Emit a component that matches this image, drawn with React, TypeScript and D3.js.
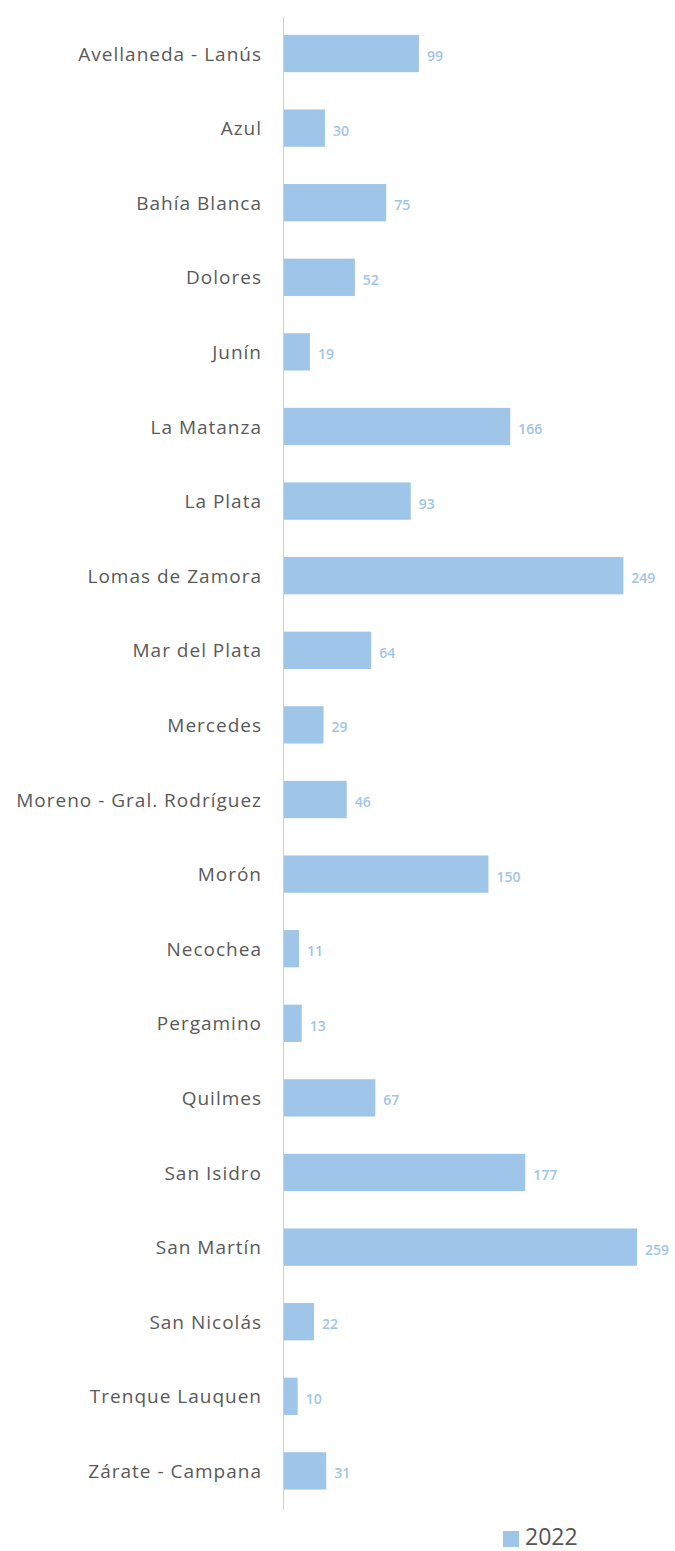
import React from "react";
import * as d3 from "d3";

const categories = [
  "Avellaneda - Lanús",
  "Azul",
  "Bahía Blanca",
  "Dolores",
  "Junín",
  "La Matanza",
  "La Plata",
  "Lomas de Zamora",
  "Mar del Plata",
  "Mercedes",
  "Moreno - Gral. Rodríguez",
  "Morón",
  "Necochea",
  "Pergamino",
  "Quilmes",
  "San Isidro",
  "San Martín",
  "San Nicolás",
  "Trenque Lauquen",
  "Zárate - Campana",
];
const values2022 = [99, 30, 75, 52, 19, 166, 93, 249, 64, 29, 46, 150, 11, 13, 67, 177, 259, 22, 10, 31];
const seriesName = "2022";

const W = 675;
const H = 1551;
const barColor = "#9fc5e8";

export default function App() {
  const x0 = 284;
  const x = d3.scaleLinear().domain([0, 259]).range([x0, 637]);
  const y = d3
    .scaleBand<string>()
    .domain(categories)
    .range([16.2, 1508.2])
    .paddingInner(0.5)
    .paddingOuter(0.25);
  const bw = y.bandwidth();
  return (
    <svg
      width={W}
      height={H}
      style={{ position: "absolute", left: 0, top: 0, background: "#fff" }}
      fontFamily="'Open Sans', sans-serif"
    >
      <line x1={x0 - 0.5} x2={x0 - 0.5} y1={17} y2={1510} stroke="#d0d0d0" strokeWidth={1} />
      {categories.map((c, i) => {
        const yy = y(c)!;
        const v = values2022[i];
        return (
          <g key={c}>
            <rect x={x0} y={yy} width={x(v) - x0} height={bw} fill={barColor} />
            <text
              x={262}
              y={yy + bw / 2}
              textAnchor="end"
              dominantBaseline="central"
              fontSize={19}
              letterSpacing={1}
              fill="#595959"
            >
              {c}
            </text>
            <text
              x={x(v) + 8}
              y={yy + bw / 2 + 2}
              dominantBaseline="central"
              fontSize={14}
              fontWeight={600}
              fill={barColor}
            >
              {v}
            </text>
          </g>
        );
      })}
      <rect x={503} y={1531} width={16} height={16} fill={barColor} />
      <text x={525} y={1545} fontSize={23} fill="#555">
        {seriesName}
      </text>
    </svg>
  );
}
